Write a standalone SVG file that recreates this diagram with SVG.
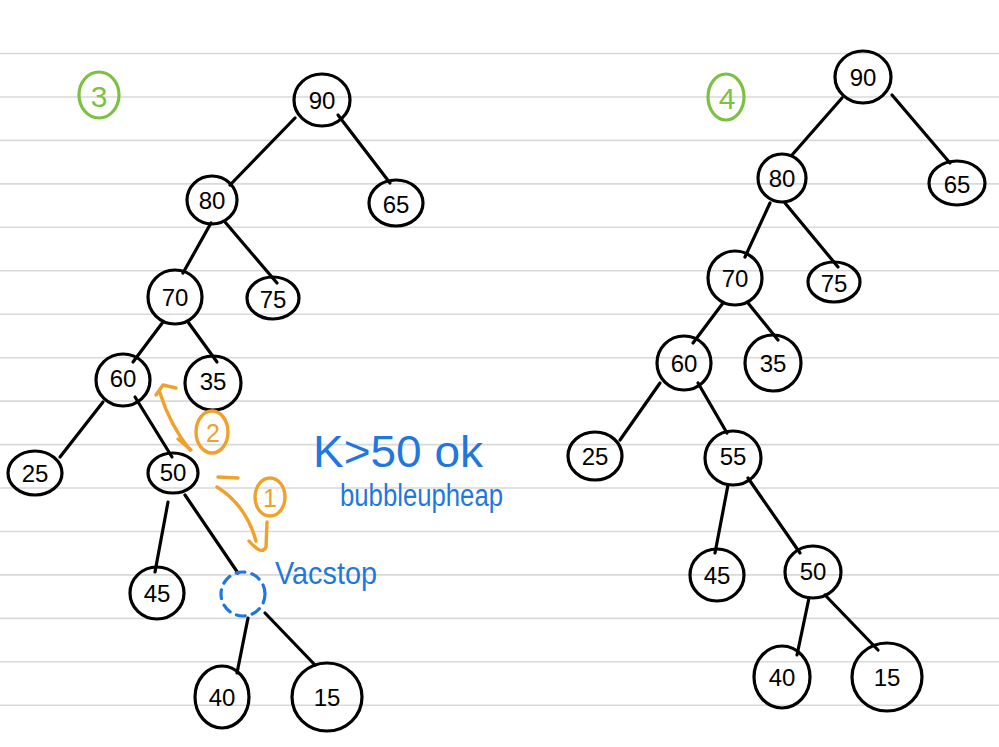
<svg xmlns="http://www.w3.org/2000/svg" width="999" height="747" viewBox="0 0 999 747">
<style>
.rule{stroke:#d9d9d9;stroke-width:1.6}
.node ellipse{fill:none;stroke:#000;stroke-width:3.2}
.node text{font-family:"Liberation Sans","DejaVu Sans",sans-serif;font-size:24px;fill:#000;text-anchor:middle;dominant-baseline:central}
.edges line{stroke:#000;stroke-width:3.2;stroke-linecap:round}
.orange{fill:none;stroke:#f0a12c;stroke-width:3.4;stroke-linecap:round;stroke-linejoin:round}
.otext{font-family:"Liberation Sans",sans-serif;font-size:25px;fill:#f0a12c;text-anchor:middle;dominant-baseline:central}
.green{fill:none;stroke:#7cc144;stroke-width:3.2}
.gtext{font-family:"Liberation Sans",sans-serif;font-size:30px;fill:#7cc144;text-anchor:middle;dominant-baseline:central}
.blue{font-family:"Liberation Sans",sans-serif;fill:#1f77e0}
.vac{fill:none;stroke:#1f77e0;stroke-width:3.2;stroke-dasharray:9 7;stroke-linecap:round}
</style>
<rect width="999" height="747" fill="#ffffff"/>
<g id="paper">
<line class="rule" x1="0" y1="53.5" x2="999" y2="53.5"/>
<line class="rule" x1="0" y1="97" x2="999" y2="97"/>
<line class="rule" x1="0" y1="140.4" x2="999" y2="140.4"/>
<line class="rule" x1="0" y1="183.9" x2="999" y2="183.9"/>
<line class="rule" x1="0" y1="227.3" x2="999" y2="227.3"/>
<line class="rule" x1="0" y1="270.8" x2="999" y2="270.8"/>
<line class="rule" x1="0" y1="314.2" x2="999" y2="314.2"/>
<line class="rule" x1="0" y1="357.7" x2="999" y2="357.7"/>
<line class="rule" x1="0" y1="401.1" x2="999" y2="401.1"/>
<line class="rule" x1="0" y1="444.6" x2="999" y2="444.6"/>
<line class="rule" x1="0" y1="488" x2="999" y2="488"/>
<line class="rule" x1="0" y1="531.5" x2="999" y2="531.5"/>
<line class="rule" x1="0" y1="574.9" x2="999" y2="574.9"/>
<line class="rule" x1="0" y1="618.4" x2="999" y2="618.4"/>
<line class="rule" x1="0" y1="661.8" x2="999" y2="661.8"/>
<line class="rule" x1="0" y1="705.3" x2="999" y2="705.3"/>
</g>
<g id="labels-steps">
<ellipse class="green" cx="99" cy="95" rx="20" ry="23"/>
<text class="gtext" x="99" y="96">3</text>
<ellipse class="green" cx="726" cy="97" rx="18" ry="23"/>
<text class="gtext" x="727" y="98">4</text>
</g>
<g class="edges" id="connectors">
<line x1="295" y1="118" x2="230" y2="185"/>
<line x1="338" y1="115" x2="390" y2="183"/>
<line x1="211" y1="223" x2="183" y2="273"/>
<line x1="225" y1="222" x2="277" y2="283"/>
<line x1="163" y1="322" x2="133" y2="362"/>
<line x1="188" y1="322" x2="217" y2="362"/>
<line x1="103" y1="402" x2="60" y2="457"/>
<line x1="135" y1="397" x2="172" y2="457"/>
<line x1="168" y1="502" x2="155" y2="572"/>
<line x1="185" y1="495" x2="238" y2="573"/>
<line x1="248" y1="618" x2="237" y2="673"/>
<line x1="265" y1="613" x2="315" y2="665"/>
<line x1="842" y1="98" x2="792" y2="155"/>
<line x1="892" y1="95" x2="950" y2="163"/>
<line x1="770" y1="203" x2="745" y2="257"/>
<line x1="785" y1="203" x2="838" y2="267"/>
<line x1="723" y1="303" x2="693" y2="343"/>
<line x1="748" y1="303" x2="778" y2="340"/>
<line x1="660" y1="383" x2="620" y2="440"/>
<line x1="698" y1="383" x2="727" y2="433"/>
<line x1="728" y1="485" x2="715" y2="553"/>
<line x1="748" y1="478" x2="800" y2="553"/>
<line x1="809" y1="598" x2="797" y2="655"/>
<line x1="825" y1="595" x2="878" y2="650"/>
</g>
<g id="left-tree">
<g class="node" id="L90"><ellipse cx="322" cy="100" rx="28" ry="26"/><text x="322" y="100">90</text></g>
<g class="node" id="L80"><ellipse cx="212" cy="200" rx="25" ry="24"/><text x="212" y="200">80</text></g>
<g class="node" id="L65"><ellipse cx="396" cy="203" rx="27" ry="23"/><text x="396" y="204">65</text></g>
<g class="node" id="L70"><ellipse cx="175" cy="297" rx="27" ry="27"/><text x="175" y="297">70</text></g>
<g class="node" id="L75"><ellipse cx="273" cy="298" rx="26" ry="21"/><text x="273" y="299">75</text></g>
<g class="node" id="L60"><ellipse cx="123" cy="380" rx="27" ry="26"/><text x="123" y="378">60</text></g>
<g class="node" id="L35"><ellipse cx="213" cy="383" rx="28" ry="27"/><text x="213" y="381">35</text></g>
<g class="node" id="L25"><ellipse cx="35" cy="473" rx="27" ry="22"/><text x="35" y="473">25</text></g>
<g class="node" id="L50"><ellipse cx="173" cy="473" rx="25" ry="20"/><text x="173" y="472">50</text></g>
<g class="node" id="L45"><ellipse cx="157" cy="593" rx="27" ry="26"/><text x="157" y="593">45</text></g>
<g id="Lvacant"><ellipse class="vac" cx="243" cy="594" rx="22" ry="22"/></g>
<g class="node" id="L40"><ellipse cx="222" cy="697" rx="27" ry="31"/><text x="222" y="697">40</text></g>
<g class="node" id="L15"><ellipse cx="327" cy="697" rx="35" ry="34"/><text x="327" y="697">15</text></g>
</g>
<g id="annotations">
<path class="orange" d="M156,395 L163,385 L176,388"/>
<path class="orange" d="M160,393 Q170,425 190,450"/>
<path class="orange" d="M178,439 L191,450"/>
<ellipse class="orange" cx="212" cy="432" rx="16" ry="21"/>
<text class="otext" x="213" y="433">2</text>
<path class="orange" d="M218,477 L238,478"/>
<path class="orange" d="M217,487 Q246,505 256,541"/>
<path class="orange" d="M267,522 L266,547 Q262,556 249,541"/>
<ellipse class="orange" cx="270" cy="497" rx="15" ry="19"/>
<text class="otext" x="270" y="498">1</text>
<text class="blue" x="313" y="467" font-size="44" textLength="170" lengthAdjust="spacingAndGlyphs">K&gt;50 ok</text>
<text class="blue" x="340" y="506" font-size="31" textLength="163" lengthAdjust="spacingAndGlyphs">bubbleupheap</text>
<text class="blue" x="275" y="584" font-size="32" textLength="102" lengthAdjust="spacingAndGlyphs">Vacstop</text>
</g>
<g id="right-tree">
<g class="node" id="R90"><ellipse cx="863" cy="77" rx="28" ry="26"/><text x="863" y="77">90</text></g>
<g class="node" id="R80"><ellipse cx="782" cy="178" rx="24" ry="24"/><text x="782" y="178">80</text></g>
<g class="node" id="R65"><ellipse cx="957" cy="183" rx="28" ry="22"/><text x="957" y="184">65</text></g>
<g class="node" id="R70"><ellipse cx="735" cy="278" rx="27" ry="27"/><text x="735" y="278">70</text></g>
<g class="node" id="R75"><ellipse cx="834" cy="282" rx="26" ry="20"/><text x="834" y="283">75</text></g>
<g class="node" id="R60"><ellipse cx="684" cy="363" rx="27" ry="27"/><text x="684" y="363">60</text></g>
<g class="node" id="R35"><ellipse cx="773" cy="363" rx="28" ry="28"/><text x="773" y="363">35</text></g>
<g class="node" id="R25"><ellipse cx="595" cy="456" rx="27" ry="24"/><text x="595" y="456">25</text></g>
<g class="node" id="R55"><ellipse cx="733" cy="458" rx="28" ry="27"/><text x="733" y="456">55</text></g>
<g class="node" id="R45"><ellipse cx="717" cy="575" rx="27" ry="26"/><text x="717" y="575">45</text></g>
<g class="node" id="R50"><ellipse cx="813" cy="572" rx="28" ry="26"/><text x="813" y="571">50</text></g>
<g class="node" id="R40"><ellipse cx="782" cy="677" rx="28" ry="31"/><text x="782" y="677">40</text></g>
<g class="node" id="R15"><ellipse cx="887" cy="677" rx="35" ry="34"/><text x="887" y="677">15</text></g>
</g>
</svg>
